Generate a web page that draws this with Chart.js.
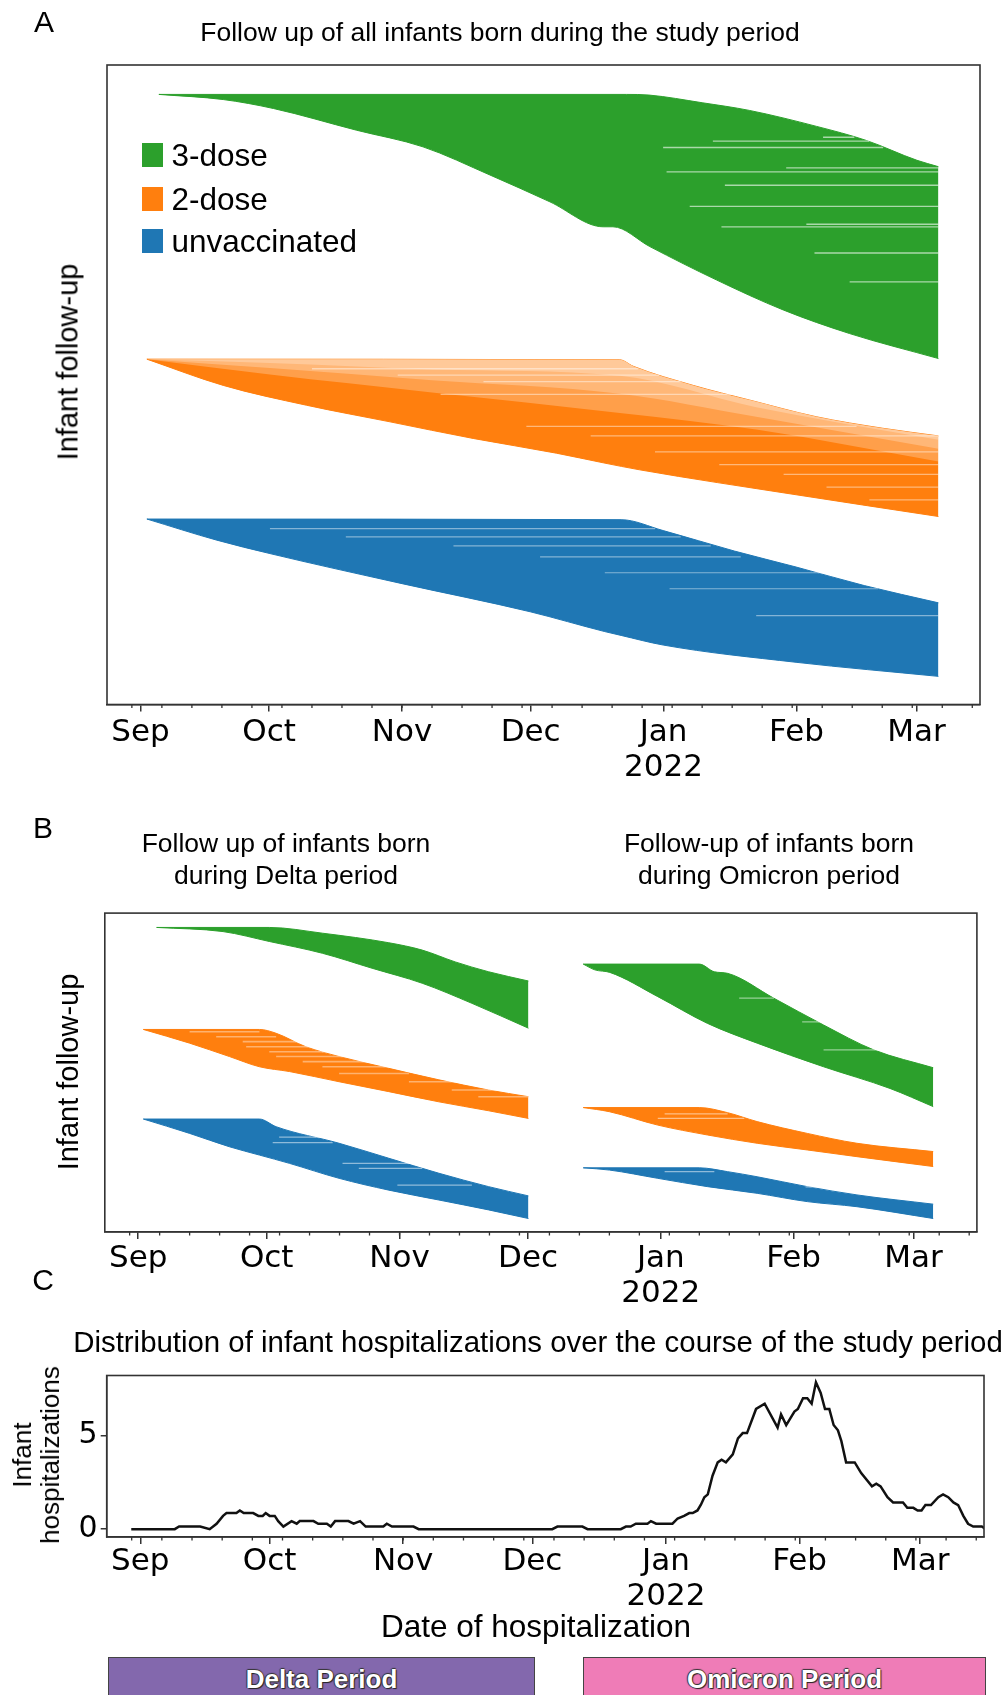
<!DOCTYPE html>
<html lang="en">
<head>
<meta charset="UTF-8">
<title>Infant follow-up and hospitalizations</title>
<script src="https://cdn.jsdelivr.net/npm/chart.js@4.4.1/dist/chart.umd.min.js"></script>
<style>
  body { margin: 0; background: #fff; }
  #fig { position: relative; width: 1006px; height: 1695px; overflow: hidden;
         font-family: "Liberation Sans", Arial, sans-serif; color: #000; }
  #fig canvas { position: absolute; left: 0; }
  .txt { position: absolute; transform: translate(-50%, -50%); white-space: nowrap; text-align: center; }
  .rot { transform: translate(-50%, -50%) rotate(-90deg); }
  .leg { position: absolute; left: 142px; height: 24px; display: flex; align-items: center; font-size: 31.5px; }
  .sw { width: 21px; height: 24px; margin-right: 8.5px; }
  .period { position: absolute; top: 1657px; height: 60px; border: 1px solid #444; box-sizing: border-box;
            color: #fff; font-weight: bold; font-size: 26px; text-align: center; line-height: 42px;
            text-shadow: 1px 1px 1px #222, -1px 0 1px #333, 0 -1px 1px #333; }
</style>
</head>
<body>
<div id="fig">
  <canvas id="chartA" width="1006" height="800" style="top:0"></canvas>
  <canvas id="chartB" width="1006" height="540" style="top:800px"></canvas>
  <canvas id="chartC" width="1006" height="300" style="top:1340px"></canvas>

  <div class="txt" style="left:44px;top:22px;font-size:30px">A</div>
  <div class="txt" style="left:500px;top:32px;font-size:26.5px">Follow up of all infants born during the study period</div>
  <div class="txt rot" style="left:68px;top:362px;font-size:29px">Infant follow-up</div>
  <div class="leg" style="top:143px"><span class="sw" style="background:#2ca02c"></span>3-dose</div>
  <div class="leg" style="top:187px"><span class="sw" style="background:#ff7f0e"></span>2-dose</div>
  <div class="leg" style="top:229px"><span class="sw" style="background:#1f77b4"></span>unvaccinated</div>

  <div class="txt" style="left:43px;top:828px;font-size:30px">B</div>
  <div class="txt" style="left:286px;top:859px;font-size:26.5px;line-height:32px">Follow up of infants born<br>during Delta period</div>
  <div class="txt" style="left:769px;top:859px;font-size:26.5px;line-height:32px">Follow-up of infants born<br>during Omicron period</div>
  <div class="txt rot" style="left:68px;top:1072px;font-size:29px">Infant follow-up</div>

  <div class="txt" style="left:43px;top:1280px;font-size:30px">C</div>
  <div class="txt" style="left:538px;top:1342px;font-size:29.4px">Distribution of infant hospitalizations over the course of the study period</div>
  <div class="txt rot" style="left:36px;top:1455px;font-size:26px;line-height:28px">Infant<br>hospitalizations</div>
  <div class="txt" style="left:536px;top:1626px;font-size:31.5px">Date of hospitalization</div>
  <div class="period" style="left:108px;width:427px;background:#8368ad">Delta Period</div>
  <div class="period" style="left:583px;width:403px;background:#ef7cb7">Omicron Period</div>
</div>

<script>
// days counted from 1 Sep 2021
const monthDays = [0, 30, 61, 91, 122, 153, 181];
const monthLabels = ['Sep', 'Oct', 'Nov', 'Dec', ['Jan', '2022'], 'Feb', 'Mar'];
const weekTicks = [-2, 5, 12, 19, 26, 33, 40, 47, 54, 61, 68, 75, 82, 89, 96, 103, 110, 117, 124, 131, 138, 145, 152, 159, 166, 173, 180, 187, 194];
const dayMin = -7.8, dayMax = 195.8;

// panel A: band edges as [day, infant rank] (rank 0 = top, 100 = bottom)
const A_dose3_upper = [[4.3, 4.6], [113.4, 4.6], [118.6, 4.7], [131, 5.9], [142, 7.1], [157.7, 9.6], [169.3, 11.8], [181.1, 14.9], [186.1, 15.9]];
const A_dose3_lower = [[4.3, 4.6], [19.3, 5.4], [31, 6.8], [50.4, 10.2], [65.9, 12.8], [81.5, 17.2], [95.5, 21.4], [107.9, 25.3], [110.2, 25.3], [118.8, 28.4], [134.3, 33.6], [149.9, 38.3], [165.4, 42.0], [186.1, 45.9]];
const A_dose2_upper = [[1.5, 46.0], [111.8, 46.1], [114.9, 47.1], [128.9, 50.1], [142.1, 52.4], [157.6, 55.0], [173.1, 56.8], [186.1, 58.0]];
const A_dose2_lower = [[1.5, 46.0], [19.3, 50.1], [38.7, 53.2], [58.2, 55.8], [77.6, 58.4], [97.0, 60.7], [107.9, 62.2], [116.4, 63.3], [152.9, 67.2], [186.1, 70.6]];
// where the white gaps of the 2-dose rows thin out (lighter near the top)
const A_dose2_pale1 = [[1.5, 46.0], [30.2, 46.6], [68, 47.6], [111.8, 48.6], [143.6, 53.5], [186.1, 58.6]];
const A_dose2_pale2 = [[1.5, 46.0], [30.2, 47.4], [68, 49.3], [111.8, 51.4], [143.6, 55.0], [186.1, 60.0]];
const A_dose2_pale3 = [[1.5, 46.0], [30.2, 48.4], [68, 51.2], [111.8, 54.4], [143.6, 57.0], [186.1, 62.0]];
const A_unvax_upper = [[1.5, 71.0], [112.1, 71.1], [121.9, 72.8], [138.5, 76.0], [152.9, 78.5], [168.8, 81.4], [186.1, 84.1]];
const A_unvax_lower = [[1.5, 71.0], [17.8, 74.3], [30.2, 76.4], [61, 81.1], [90.9, 85.5], [108.3, 88.6], [112.1, 89.2], [121.9, 90.7], [152.9, 93.4], [186.1, 95.6]];

// light gaps inside the bands: [start day, end day, rank]
const A_dose3_gaps = [[159.2, 166.5, 11.3], [133.5, 170, 11.9], [121.9, 173.2, 12.9], [150.6, 186.1, 16.1], [122.7, 186.1, 16.7], [136.3, 186.1, 18.8], [128.1, 186.1, 22.1], [155.3, 186.1, 24.9], [135.5, 186.1, 25.3], [157.2, 186.1, 29.4], [165.4, 186.1, 33.9]];
const A_dose2_gaps = [[40, 116, 47.5], [60, 121, 48.5], [80, 126, 49.5], [70, 140, 51.5], [90, 167, 56.5], [105, 186.1, 58.0], [120, 186.1, 60.5], [135, 186.1, 62.5], [150, 186.1, 64.0], [160, 186.1, 66.0], [170, 186.1, 68.0]];
const A_unvax_gaps = [[30.2, 120, 72.5], [47.9, 126, 73.8], [73, 133, 75.2], [93.2, 140, 76.9], [108.3, 160, 79.4], [123.4, 172, 81.9], [143.6, 186.1, 86.1]];

// panel B
const B_delta_dose3_upper = [[4.3, 4.5], [30.6, 4.5], [43, 6.3], [58.5, 9.3], [66.3, 11.6], [74, 15.3], [81.8, 18.4], [91.1, 21.3]];
const B_delta_dose3_lower = [[4.3, 4.5], [19.8, 5.8], [30.6, 8.9], [43, 12.6], [54.6, 17.3], [66.3, 22.0], [77.9, 28.3], [91.1, 36.1]];
const B_delta_dose2_upper = [[1.2, 36.5], [28.3, 36.5], [32.2, 37.7], [39.1, 41.9], [46.9, 45.0], [58.5, 48.7], [70.2, 52.3], [81.8, 55.5], [91.1, 57.6]];
const B_delta_dose2_lower = [[1.2, 36.5], [12, 40.8], [21.3, 45.0], [28.3, 48.2], [35.3, 49.7], [46.9, 52.9], [58.5, 56.0], [70.2, 59.2], [81.8, 62.0], [91.1, 64.4]];
const B_delta_unvax_upper = [[1.2, 64.6], [28.3, 64.6], [32.2, 67.0], [46.9, 72.2], [58.5, 76.9], [70.2, 81.6], [81.8, 85.8], [91.1, 88.7]];
const B_delta_unvax_lower = [[1.2, 64.6], [12, 69.1], [21.3, 73.3], [28.3, 75.9], [35.3, 78.5], [46.9, 83.2], [58.5, 86.9], [70.2, 90.0], [81.8, 93.1], [91.1, 95.8]];
const B_omi_dose3_upper = [[103.9, 16.0], [131, 16.0], [134.5, 18.4], [137.6, 18.9], [148.4, 26.7], [160, 35.1], [171.7, 42.9], [185.6, 48.5]];
const B_omi_dose3_lower = [[103.9, 16.0], [106.6, 17.8], [110.1, 18.6], [121.3, 26.2], [132.9, 34.6], [144.5, 40.8], [160, 48.2], [175.5, 55.0], [185.6, 60.7]];
const B_omi_dose2_upper = [[103.9, 61.0], [131, 61.0], [137.6, 62.6], [144.5, 65.4], [156.2, 69.1], [167.8, 72.2], [185.6, 74.8]];
const B_omi_dose2_lower = [[103.9, 61.0], [110, 62.3], [121.3, 66.5], [132.9, 69.6], [144.5, 72.2], [156.2, 74.3], [167.8, 76.4], [185.6, 79.5]];
const B_omi_unvax_upper = [[103.9, 79.9], [131, 79.9], [137.6, 81.1], [144.5, 82.7], [156.2, 85.8], [167.8, 88.4], [185.6, 91.3]];
const B_omi_unvax_lower = [[103.9, 79.9], [110, 80.6], [121.3, 83.2], [132.9, 85.8], [144.5, 87.9], [156.2, 90.5], [167.8, 92.1], [185.6, 95.8]];

const B_delta_dose2_gaps = [[12, 28.3, 37.2], [18.2, 32.2, 38.8], [24.4, 39.1, 40.3], [25.2, 43, 41.9], [30.6, 47.7, 43.5], [32.2, 50.8, 45.0], [38.4, 56.2, 46.6], [43, 58.5, 48.2], [46.9, 63.2, 50.3], [63.2, 74, 52.9], [73.2, 91.1, 55.5], [79.4, 91.1, 57.6]];
const B_delta_unvax_gaps = [[32.9, 44.6, 70.3], [31.4, 45.4, 72.0], [47.7, 63.2, 78.5], [51.5, 66.3, 80.1], [60.5, 77.9, 85.3]];
const B_omi_gaps = [[140.3, 148.4, 26.7], [155, 160, 34.1], [160, 173.6, 42.9], [122.9, 137.6, 63.0], [121.3, 141.5, 64.4], [122.9, 134.5, 81.1], [155.8, 160, 85.9]];

// panel C: 7-day mean of infant hospitalizations
const hospDays = [-2.1, 8.0, 9.0, 13.9, 16.1, 17.7, 19.2, 20.0, 22.3, 23.1, 24.0, 26.2, 27.4, 28.4, 29.1, 30.0, 31.2, 32.0, 33.2, 35.1, 36.3, 37.0, 40.2, 41.3, 43.3, 44.2, 45.2, 48.3, 49.5, 51.0, 52.3, 56.4, 57.2, 58.4, 63.4, 64.6, 95.6, 96.8, 102.6, 103.8, 111.5, 112.7, 113.8, 115.0, 117.7, 118.5, 119.7, 123.5, 124.7, 126.2, 127.4, 128.2, 129.3, 130.1, 130.9, 131.7, 132.8, 134.0, 134.9, 135.9, 137.5, 138.7, 139.8, 140.8, 142.9, 144.9, 147.9, 148.7, 149.9, 151.8, 152.6, 153.8, 154.8, 155.8, 156.8, 157.9, 158.9, 159.9, 160.9, 161.9, 162.7, 163.8, 165.8, 167.3, 169.8, 170.8, 171.8, 173.4, 174.7, 177.0, 178.0, 179.4, 180.4, 181.3, 182.2, 183.5, 185.2, 186.3, 187.5, 188.7, 189.8, 191.0, 192.1, 193.3, 195.3, 196.2];
const hospValues = [0, 0, 0.14, 0.14, 0, 0.29, 0.71, 0.86, 0.86, 1.0, 0.86, 0.86, 0.71, 0.71, 0.86, 0.71, 0.71, 0.43, 0.14, 0.43, 0.29, 0.43, 0.43, 0.29, 0.29, 0.14, 0.43, 0.43, 0.29, 0.43, 0.14, 0.14, 0.29, 0.14, 0.14, 0, 0, 0.14, 0.14, 0, 0, 0.14, 0.14, 0.29, 0.29, 0.43, 0.29, 0.29, 0.57, 0.71, 0.86, 0.86, 1.0, 1.31, 1.71, 1.86, 2.86, 3.57, 3.71, 3.57, 4.0, 4.86, 5.14, 5.14, 6.43, 6.71, 5.43, 6.14, 5.57, 6.29, 6.43, 7.0, 7.0, 6.71, 7.86, 7.29, 6.43, 6.43, 5.57, 5.29, 4.71, 3.57, 3.57, 3.0, 2.29, 2.43, 2.29, 1.71, 1.43, 1.43, 1.14, 1.14, 1.0, 1.0, 1.29, 1.29, 1.71, 1.86, 1.71, 1.43, 1.29, 0.71, 0.29, 0.14, 0.14, 0];
const hospTicks = [0, 5];

const green = '#2ca02c', orange = '#ff7f0e', blue = '#1f77b4';
const edge = '#333';

function pts(list) { return list.map(p => ({ x: p[0], y: p[1] })); }

function band(upper, lower, color) {
  return [
    { data: pts(upper), fill: '+1', backgroundColor: color, borderColor: color, borderWidth: 1, cubicInterpolationMode: 'monotone' },
    { data: pts(lower), fill: false, borderColor: color, borderWidth: 1, cubicInterpolationMode: 'monotone' }
  ];
}

function veil(upper, lower, alpha) {
  return [
    { data: pts(upper), fill: '+1', backgroundColor: 'rgba(255,255,255,' + alpha + ')', borderColor: 'rgba(0,0,0,0)', cubicInterpolationMode: 'monotone' },
    { data: pts(lower), fill: false, borderColor: 'rgba(0,0,0,0)', cubicInterpolationMode: 'monotone' }
  ];
}

function gaps(list, color, width) {
  return list.map(g => ({ data: [{ x: g[0], y: g[2] }, { x: g[1], y: g[2] }], fill: false, borderColor: color, borderWidth: width }));
}

// frame round the plot area + weekly minor ticks
const frame = {
  id: 'frame',
  afterDraw(chart) {
    const { ctx, chartArea: a } = chart;
    const xs = chart.scales.x;
    ctx.save();
    ctx.strokeStyle = edge;
    ctx.lineWidth = 1.6;
    ctx.strokeRect(a.left, a.top, a.right - a.left, a.bottom - a.top);
    ctx.lineWidth = 1.3;
    ctx.beginPath();
    weekTicks.forEach(d => {
      const px = xs.getPixelForValue(d);
      ctx.moveTo(px, a.bottom);
      ctx.lineTo(px, a.bottom + 3.5);
    });
    ctx.stroke();
    ctx.restore();
  }
};

function timeAxis(pad) {
  return {
    type: 'linear', min: dayMin, max: dayMax,
    afterBuildTicks: s => { s.ticks = monthDays.map(v => ({ value: v })); },
    afterFit: s => { s.height = 80; },
    ticks: {
      autoSkip: false, maxRotation: 0, padding: pad, color: '#000',
      font: { family: 'DejaVu Sans', size: 31, lineHeight: 1.12 },
      callback: (v, i) => monthLabels[i]
    },
    grid: { drawOnChartArea: false, tickLength: 7, color: edge, lineWidth: 1.5 },
    border: { color: edge, width: 1.5 }
  };
}

function baseOptions(padding) {
  return {
    responsive: false, animation: false, events: [],
    layout: { padding: padding },
    plugins: { legend: { display: false }, tooltip: { enabled: false } },
    elements: { point: { radius: 0 }, line: { tension: 0 } }
  };
}

// A
const dsA = [
  ...gaps(A_dose3_gaps, 'rgba(255,255,255,0.6)', 1.3),
  ...gaps(A_dose2_gaps, 'rgba(255,255,255,0.45)', 1.3),
  ...gaps(A_unvax_gaps, 'rgba(255,255,255,0.45)', 1.2),
  ...veil(A_dose2_upper, A_dose2_pale1, 0.25),
  ...veil(A_dose2_upper, A_dose2_pale2, 0.25),
  ...veil(A_dose2_upper, A_dose2_pale3, 0.25),
  ...band(A_dose3_upper, A_dose3_lower, green),
  ...band(A_dose2_upper, A_dose2_lower, orange),
  ...band(A_unvax_upper, A_unvax_lower, blue)
];
const optA = baseOptions({ left: 107, right: 26, top: 65, bottom: 15.5 });
optA.scales = { x: timeAxis(4.5), y: { display: false, min: 0, max: 100, reverse: true } };
new Chart(document.getElementById('chartA'), { type: 'line', data: { datasets: dsA }, options: optA, plugins: [frame] });

// B
const dsB = [
  ...gaps(B_delta_dose2_gaps, 'rgba(255,255,255,0.4)', 1.6),
  ...gaps(B_delta_unvax_gaps, 'rgba(255,255,255,0.5)', 1.2),
  ...gaps(B_omi_gaps, 'rgba(255,255,255,0.5)', 1.2),
  ...band(B_delta_dose3_upper, B_delta_dose3_lower, green),
  ...band(B_delta_dose2_upper, B_delta_dose2_lower, orange),
  ...band(B_delta_unvax_upper, B_delta_unvax_lower, blue),
  ...band(B_omi_dose3_upper, B_omi_dose3_lower, green),
  ...band(B_omi_dose2_upper, B_omi_dose2_lower, orange),
  ...band(B_omi_unvax_upper, B_omi_unvax_lower, blue)
];
const optB = baseOptions({ left: 104.8, right: 29.1, top: 113.1, bottom: 28.1 });
optB.scales = { x: timeAxis(3), y: { display: false, min: 0, max: 100, reverse: true } };
new Chart(document.getElementById('chartB'), { type: 'line', data: { datasets: dsB }, options: optB, plugins: [frame] });

// C
const optC = baseOptions({ left: 66.7, right: 22, top: 35.5, bottom: 23 });
optC.scales = {
  x: timeAxis(0.5),
  y: {
    min: -0.42, max: 8.22,
    afterBuildTicks: s => { s.ticks = hospTicks.map(v => ({ value: v })); },
    afterFit: s => { s.width = 40; },
    ticks: { padding: 3, color: '#000', font: { family: 'DejaVu Sans', size: 30 } },
    grid: { drawOnChartArea: false, tickLength: 6, color: edge, lineWidth: 1.5 },
    border: { color: edge, width: 1.5 }
  }
};
new Chart(document.getElementById('chartC'), {
  type: 'line',
  data: { datasets: [{ data: hospDays.map((d, i) => ({ x: d, y: hospValues[i] })), borderColor: '#111', borderWidth: 2.5, fill: false }] },
  options: optC,
  plugins: [frame]
});
</script>
</body>
</html>
